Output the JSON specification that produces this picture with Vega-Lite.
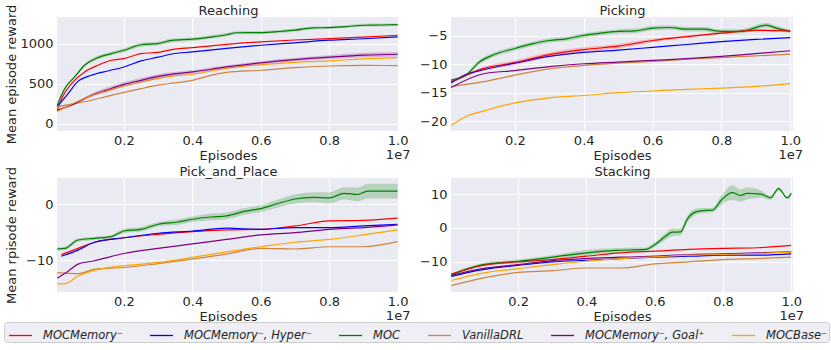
{
  "$schema": "https://vega.github.io/schema/vega-lite/v6.json",
  "background": "white",
  "padding": {"left": 3, "top": 4, "right": 2, "bottom": 2},
  "config": {
    "font": "DejaVu Sans",
    "view": {"fill": "#EAEAF2", "stroke": null},
    "axis": {"grid": true, "gridColor": "#ffffff", "gridWidth": 1, "domain": false, "ticks": false, "labelFont": "DejaVu Sans", "titleFont": "DejaVu Sans", "labelFontSize": 13, "titleFontSize": 13, "titleFontWeight": "normal", "labelColor": "#262626", "titleColor": "#262626", "labelLineHeight": 14},
    "axisX": {"labelPadding": 3},
    "axisY": {"labelPadding": 4},
    "legend": {"direction": "horizontal", "columns": 6, "symbolType": "stroke", "symbolSize": 529, "symbolStrokeWidth": 1.3, "symbolOffset": 3, "labelFont": "DejaVu Sans", "labelFontStyle": "italic", "labelFontSize": 11.5, "labelColor": "#262626", "labelOffset": 10, "columnPadding": 23, "padding": 1, "fillColor": "#EEEEF4", "strokeColor": "#CCCCCC", "cornerRadius": 3, "labelLimit": 300}
  },
  "data": {"values": [
    {"p":"R","s":"c","x":0.005,"y":229,"lo":217,"hi":241},
    {"p":"R","s":"c","x":0.027,"y":437,"lo":422,"hi":452},
    {"p":"R","s":"c","x":0.056,"y":583,"lo":565,"hi":601},
    {"p":"R","s":"c","x":0.085,"y":729,"lo":709,"hi":749},
    {"p":"R","s":"c","x":0.124,"y":825,"lo":803,"hi":847},
    {"p":"R","s":"c","x":0.163,"y":875,"lo":853,"hi":897},
    {"p":"R","s":"c","x":0.2,"y":917,"lo":892,"hi":942},
    {"p":"R","s":"c","x":0.25,"y":985,"lo":960,"hi":1010},
    {"p":"R","s":"c","x":0.3,"y":1000,"lo":975,"hi":1025},
    {"p":"R","s":"c","x":0.34,"y":1040,"lo":1015,"hi":1065},
    {"p":"R","s":"c","x":0.4,"y":1055,"lo":1033,"hi":1077},
    {"p":"R","s":"c","x":0.45,"y":1080,"lo":1058,"hi":1102},
    {"p":"R","s":"c","x":0.5,"y":1110,"lo":1088,"hi":1132},
    {"p":"R","s":"c","x":0.53,"y":1135,"lo":1115,"hi":1155},
    {"p":"R","s":"c","x":0.6,"y":1138,"lo":1118,"hi":1158},
    {"p":"R","s":"c","x":0.65,"y":1150,"lo":1130,"hi":1170},
    {"p":"R","s":"c","x":0.7,"y":1167,"lo":1147,"hi":1187},
    {"p":"R","s":"c","x":0.75,"y":1195,"lo":1177,"hi":1213},
    {"p":"R","s":"c","x":0.8,"y":1200,"lo":1182,"hi":1218},
    {"p":"R","s":"c","x":0.85,"y":1212,"lo":1194,"hi":1230},
    {"p":"R","s":"c","x":0.9,"y":1229,"lo":1211,"hi":1247},
    {"p":"R","s":"c","x":0.95,"y":1232,"lo":1214,"hi":1250},
    {"p":"R","s":"c","x":1.0,"y":1237,"lo":1219,"hi":1255},
    {"p":"R","s":"m","x":0.005,"y":166},
    {"p":"R","s":"m","x":0.02,"y":330},
    {"p":"R","s":"m","x":0.047,"y":500},
    {"p":"R","s":"m","x":0.085,"y":646},
    {"p":"R","s":"m","x":0.124,"y":729},
    {"p":"R","s":"m","x":0.163,"y":792},
    {"p":"R","s":"m","x":0.2,"y":812},
    {"p":"R","s":"m","x":0.25,"y":875},
    {"p":"R","s":"m","x":0.3,"y":890},
    {"p":"R","s":"m","x":0.34,"y":925},
    {"p":"R","s":"m","x":0.4,"y":950},
    {"p":"R","s":"m","x":0.5,"y":990},
    {"p":"R","s":"m","x":0.6,"y":1021},
    {"p":"R","s":"m","x":0.7,"y":1045},
    {"p":"R","s":"m","x":0.8,"y":1062},
    {"p":"R","s":"m","x":0.9,"y":1080},
    {"p":"R","s":"m","x":1.0,"y":1104},
    {"p":"R","s":"h","x":0.005,"y":212},
    {"p":"R","s":"h","x":0.037,"y":375},
    {"p":"R","s":"h","x":0.064,"y":521},
    {"p":"R","s":"h","x":0.105,"y":604},
    {"p":"R","s":"h","x":0.153,"y":658},
    {"p":"R","s":"h","x":0.2,"y":708},
    {"p":"R","s":"h","x":0.25,"y":783},
    {"p":"R","s":"h","x":0.3,"y":830},
    {"p":"R","s":"h","x":0.34,"y":870},
    {"p":"R","s":"h","x":0.4,"y":896},
    {"p":"R","s":"h","x":0.5,"y":940},
    {"p":"R","s":"h","x":0.6,"y":979},
    {"p":"R","s":"h","x":0.7,"y":1010},
    {"p":"R","s":"h","x":0.8,"y":1042},
    {"p":"R","s":"h","x":0.9,"y":1060},
    {"p":"R","s":"h","x":1.0,"y":1083},
    {"p":"R","s":"v","x":0.005,"y":212},
    {"p":"R","s":"v","x":0.056,"y":250},
    {"p":"R","s":"v","x":0.105,"y":292},
    {"p":"R","s":"v","x":0.15,"y":340},
    {"p":"R","s":"v","x":0.2,"y":390},
    {"p":"R","s":"v","x":0.25,"y":437},
    {"p":"R","s":"v","x":0.3,"y":480},
    {"p":"R","s":"v","x":0.34,"y":505},
    {"p":"R","s":"v","x":0.4,"y":540},
    {"p":"R","s":"v","x":0.45,"y":600},
    {"p":"R","s":"v","x":0.5,"y":640},
    {"p":"R","s":"v","x":0.6,"y":667},
    {"p":"R","s":"v","x":0.7,"y":700},
    {"p":"R","s":"v","x":0.8,"y":720},
    {"p":"R","s":"v","x":0.9,"y":727},
    {"p":"R","s":"v","x":1.0,"y":725},
    {"p":"R","s":"g","x":0.005,"y":166,"lo":161,"hi":171},
    {"p":"R","s":"g","x":0.056,"y":250,"lo":238,"hi":262},
    {"p":"R","s":"g","x":0.105,"y":354,"lo":334,"hi":374},
    {"p":"R","s":"g","x":0.15,"y":420,"lo":390,"hi":450},
    {"p":"R","s":"g","x":0.2,"y":490,"lo":460,"hi":520},
    {"p":"R","s":"g","x":0.25,"y":541,"lo":511,"hi":571},
    {"p":"R","s":"g","x":0.3,"y":590,"lo":562,"hi":618},
    {"p":"R","s":"g","x":0.338,"y":616,"lo":591,"hi":641},
    {"p":"R","s":"g","x":0.4,"y":646,"lo":624,"hi":668},
    {"p":"R","s":"g","x":0.5,"y":708,"lo":688,"hi":728},
    {"p":"R","s":"g","x":0.6,"y":760,"lo":740,"hi":780},
    {"p":"R","s":"g","x":0.7,"y":800,"lo":778,"hi":822},
    {"p":"R","s":"g","x":0.8,"y":830,"lo":805,"hi":855},
    {"p":"R","s":"g","x":0.9,"y":855,"lo":825,"hi":885},
    {"p":"R","s":"g","x":1.0,"y":867,"lo":839,"hi":895},
    {"p":"R","s":"b","x":0.005,"y":150},
    {"p":"R","s":"b","x":0.056,"y":260},
    {"p":"R","s":"b","x":0.105,"y":350},
    {"p":"R","s":"b","x":0.15,"y":410},
    {"p":"R","s":"b","x":0.2,"y":470},
    {"p":"R","s":"b","x":0.25,"y":520},
    {"p":"R","s":"b","x":0.3,"y":565},
    {"p":"R","s":"b","x":0.338,"y":590},
    {"p":"R","s":"b","x":0.4,"y":617},
    {"p":"R","s":"b","x":0.5,"y":690},
    {"p":"R","s":"b","x":0.6,"y":735},
    {"p":"R","s":"b","x":0.7,"y":765},
    {"p":"R","s":"b","x":0.8,"y":785},
    {"p":"R","s":"b","x":0.9,"y":808},
    {"p":"R","s":"b","x":1.0,"y":825},

    {"p":"P","s":"c","x":0.015,"y":-12.8,"lo":-13.1,"hi":-12.5},
    {"p":"P","s":"c","x":0.058,"y":-11.9,"lo":-12.2,"hi":-11.6},
    {"p":"P","s":"c","x":0.097,"y":-9.6,"lo":-10.0,"hi":-9.2},
    {"p":"P","s":"c","x":0.135,"y":-8.4,"lo":-8.8,"hi":-8.0},
    {"p":"P","s":"c","x":0.2,"y":-7.2,"lo":-7.6,"hi":-6.8},
    {"p":"P","s":"c","x":0.25,"y":-6.4,"lo":-6.8,"hi":-6.0},
    {"p":"P","s":"c","x":0.3,"y":-5.8,"lo":-6.2,"hi":-5.4},
    {"p":"P","s":"c","x":0.35,"y":-5.5,"lo":-5.9,"hi":-5.1},
    {"p":"P","s":"c","x":0.4,"y":-4.9,"lo":-5.3,"hi":-4.5},
    {"p":"P","s":"c","x":0.45,"y":-4.5,"lo":-4.9,"hi":-4.1},
    {"p":"P","s":"c","x":0.5,"y":-4.2,"lo":-4.6,"hi":-3.8},
    {"p":"P","s":"c","x":0.55,"y":-4.1,"lo":-4.5,"hi":-3.7},
    {"p":"P","s":"c","x":0.6,"y":-3.6,"lo":-4.0,"hi":-3.2},
    {"p":"P","s":"c","x":0.65,"y":-3.5,"lo":-3.9,"hi":-3.1},
    {"p":"P","s":"c","x":0.7,"y":-3.8,"lo":-4.2,"hi":-3.4},
    {"p":"P","s":"c","x":0.75,"y":-3.8,"lo":-4.2,"hi":-3.4},
    {"p":"P","s":"c","x":0.8,"y":-4.2,"lo":-4.6,"hi":-3.8},
    {"p":"P","s":"c","x":0.85,"y":-4.2,"lo":-4.6,"hi":-3.8},
    {"p":"P","s":"c","x":0.88,"y":-3.9,"lo":-4.3,"hi":-3.5},
    {"p":"P","s":"c","x":0.93,"y":-3.1,"lo":-3.5,"hi":-2.7},
    {"p":"P","s":"c","x":0.96,"y":-3.6,"lo":-4.0,"hi":-3.2},
    {"p":"P","s":"c","x":1.0,"y":-4.2,"lo":-4.5,"hi":-3.9},
    {"p":"P","s":"m","x":0.015,"y":-13.1,"lo":-13.3,"hi":-12.9},
    {"p":"P","s":"m","x":0.106,"y":-10.8,"lo":-11.1,"hi":-10.5},
    {"p":"P","s":"m","x":0.2,"y":-9.7,"lo":-10.1,"hi":-9.3},
    {"p":"P","s":"m","x":0.3,"y":-8.3,"lo":-8.7,"hi":-7.9},
    {"p":"P","s":"m","x":0.4,"y":-7.4,"lo":-7.8,"hi":-7.0},
    {"p":"P","s":"m","x":0.5,"y":-6.8,"lo":-7.2,"hi":-6.4},
    {"p":"P","s":"m","x":0.6,"y":-5.8,"lo":-6.1,"hi":-5.5},
    {"p":"P","s":"m","x":0.7,"y":-5.1,"lo":-5.3,"hi":-4.9},
    {"p":"P","s":"m","x":0.8,"y":-4.5,"lo":-4.7,"hi":-4.3},
    {"p":"P","s":"m","x":0.9,"y":-4.0,"lo":-4.2,"hi":-3.8},
    {"p":"P","s":"m","x":1.0,"y":-4.1,"lo":-4.3,"hi":-3.9},
    {"p":"P","s":"h","x":0.015,"y":-13.3},
    {"p":"P","s":"h","x":0.058,"y":-11.8},
    {"p":"P","s":"h","x":0.106,"y":-11.0},
    {"p":"P","s":"h","x":0.2,"y":-9.8},
    {"p":"P","s":"h","x":0.3,"y":-8.6},
    {"p":"P","s":"h","x":0.4,"y":-7.9},
    {"p":"P","s":"h","x":0.5,"y":-7.5},
    {"p":"P","s":"h","x":0.6,"y":-7.0},
    {"p":"P","s":"h","x":0.7,"y":-6.5},
    {"p":"P","s":"h","x":0.8,"y":-6.0},
    {"p":"P","s":"h","x":0.9,"y":-5.6},
    {"p":"P","s":"h","x":1.0,"y":-5.3},
    {"p":"P","s":"v","x":0.015,"y":-13.9},
    {"p":"P","s":"v","x":0.106,"y":-13.1},
    {"p":"P","s":"v","x":0.2,"y":-11.9},
    {"p":"P","s":"v","x":0.3,"y":-10.8},
    {"p":"P","s":"v","x":0.4,"y":-10.2},
    {"p":"P","s":"v","x":0.5,"y":-9.8},
    {"p":"P","s":"v","x":0.6,"y":-9.5},
    {"p":"P","s":"v","x":0.7,"y":-9.1},
    {"p":"P","s":"v","x":0.8,"y":-8.8},
    {"p":"P","s":"v","x":0.9,"y":-8.5},
    {"p":"P","s":"v","x":1.0,"y":-8.2},
    {"p":"P","s":"g","x":0.015,"y":-14.1},
    {"p":"P","s":"g","x":0.106,"y":-11.7},
    {"p":"P","s":"g","x":0.2,"y":-11.1},
    {"p":"P","s":"g","x":0.3,"y":-10.4},
    {"p":"P","s":"g","x":0.4,"y":-9.9},
    {"p":"P","s":"g","x":0.5,"y":-9.6},
    {"p":"P","s":"g","x":0.6,"y":-9.3},
    {"p":"P","s":"g","x":0.7,"y":-9.0},
    {"p":"P","s":"g","x":0.8,"y":-8.6},
    {"p":"P","s":"g","x":0.9,"y":-8.1},
    {"p":"P","s":"g","x":1.0,"y":-7.6},
    {"p":"P","s":"b","x":0.015,"y":-20.8},
    {"p":"P","s":"b","x":0.058,"y":-19.2},
    {"p":"P","s":"b","x":0.106,"y":-18.3},
    {"p":"P","s":"b","x":0.2,"y":-16.8},
    {"p":"P","s":"b","x":0.3,"y":-15.9},
    {"p":"P","s":"b","x":0.4,"y":-15.5},
    {"p":"P","s":"b","x":0.5,"y":-15.0},
    {"p":"P","s":"b","x":0.6,"y":-14.7},
    {"p":"P","s":"b","x":0.7,"y":-14.4},
    {"p":"P","s":"b","x":0.8,"y":-14.2},
    {"p":"P","s":"b","x":0.9,"y":-13.9},
    {"p":"P","s":"b","x":1.0,"y":-13.4},

    {"p":"Q","s":"c","x":0.005,"y":-8.0,"lo":-8.3,"hi":-7.7},
    {"p":"Q","s":"c","x":0.027,"y":-7.9,"lo":-8.2,"hi":-7.6},
    {"p":"Q","s":"c","x":0.066,"y":-6.4,"lo":-6.7,"hi":-6.1},
    {"p":"Q","s":"c","x":0.114,"y":-6.1,"lo":-6.4,"hi":-5.8},
    {"p":"Q","s":"c","x":0.163,"y":-5.8,"lo":-6.1,"hi":-5.5},
    {"p":"Q","s":"c","x":0.2,"y":-4.8,"lo":-5.2,"hi":-4.4},
    {"p":"Q","s":"c","x":0.25,"y":-4.5,"lo":-4.9,"hi":-4.1},
    {"p":"Q","s":"c","x":0.3,"y":-3.6,"lo":-4.0,"hi":-3.2},
    {"p":"Q","s":"c","x":0.358,"y":-3.2,"lo":-3.7,"hi":-2.7},
    {"p":"Q","s":"c","x":0.4,"y":-2.7,"lo":-3.2,"hi":-2.2},
    {"p":"Q","s":"c","x":0.455,"y":-2.3,"lo":-2.9,"hi":-1.7},
    {"p":"Q","s":"c","x":0.5,"y":-2.1,"lo":-2.7,"hi":-1.5},
    {"p":"Q","s":"c","x":0.552,"y":-1.3,"lo":-1.9,"hi":-0.7},
    {"p":"Q","s":"c","x":0.6,"y":-0.8,"lo":-1.4,"hi":-0.2},
    {"p":"Q","s":"c","x":0.65,"y":0.1,"lo":-0.6,"hi":0.8},
    {"p":"Q","s":"c","x":0.7,"y":0.9,"lo":0.1,"hi":1.7},
    {"p":"Q","s":"c","x":0.752,"y":1.2,"lo":0.3,"hi":2.1},
    {"p":"Q","s":"c","x":0.8,"y":1.1,"lo":0.1,"hi":2.1},
    {"p":"Q","s":"c","x":0.844,"y":1.9,"lo":0.8,"hi":3.0},
    {"p":"Q","s":"c","x":0.883,"y":1.7,"lo":0.5,"hi":2.9},
    {"p":"Q","s":"c","x":0.912,"y":2.3,"lo":1.0,"hi":3.6},
    {"p":"Q","s":"c","x":1.0,"y":2.3,"lo":1.0,"hi":3.6},
    {"p":"Q","s":"m","x":0.017,"y":-9.0},
    {"p":"Q","s":"m","x":0.066,"y":-7.9},
    {"p":"Q","s":"m","x":0.114,"y":-6.8},
    {"p":"Q","s":"m","x":0.2,"y":-6.0},
    {"p":"Q","s":"m","x":0.3,"y":-5.4},
    {"p":"Q","s":"m","x":0.4,"y":-4.9},
    {"p":"Q","s":"m","x":0.5,"y":-4.6},
    {"p":"Q","s":"m","x":0.6,"y":-4.5},
    {"p":"Q","s":"m","x":0.7,"y":-3.9},
    {"p":"Q","s":"m","x":0.8,"y":-3.0},
    {"p":"Q","s":"m","x":0.9,"y":-2.9},
    {"p":"Q","s":"m","x":1.0,"y":-2.5},
    {"p":"Q","s":"h","x":0.017,"y":-9.3},
    {"p":"Q","s":"h","x":0.066,"y":-8.2},
    {"p":"Q","s":"h","x":0.114,"y":-6.8},
    {"p":"Q","s":"h","x":0.2,"y":-6.0},
    {"p":"Q","s":"h","x":0.3,"y":-5.2},
    {"p":"Q","s":"h","x":0.4,"y":-4.8},
    {"p":"Q","s":"h","x":0.5,"y":-4.3},
    {"p":"Q","s":"h","x":0.6,"y":-4.5},
    {"p":"Q","s":"h","x":0.7,"y":-4.2},
    {"p":"Q","s":"h","x":0.8,"y":-4.2},
    {"p":"Q","s":"h","x":0.9,"y":-3.9},
    {"p":"Q","s":"h","x":1.0,"y":-3.6},
    {"p":"Q","s":"v","x":0.005,"y":-12.2},
    {"p":"Q","s":"v","x":0.066,"y":-12.4},
    {"p":"Q","s":"v","x":0.114,"y":-11.6},
    {"p":"Q","s":"v","x":0.2,"y":-11.3},
    {"p":"Q","s":"v","x":0.3,"y":-10.6},
    {"p":"Q","s":"v","x":0.4,"y":-9.8},
    {"p":"Q","s":"v","x":0.5,"y":-8.9},
    {"p":"Q","s":"v","x":0.6,"y":-7.9},
    {"p":"Q","s":"v","x":0.7,"y":-8.0},
    {"p":"Q","s":"v","x":0.8,"y":-7.6},
    {"p":"Q","s":"v","x":0.9,"y":-7.6},
    {"p":"Q","s":"v","x":1.0,"y":-6.7},
    {"p":"Q","s":"g","x":0.005,"y":-13.2},
    {"p":"Q","s":"g","x":0.038,"y":-11.9},
    {"p":"Q","s":"g","x":0.066,"y":-10.7},
    {"p":"Q","s":"g","x":0.114,"y":-10.1},
    {"p":"Q","s":"g","x":0.2,"y":-8.8},
    {"p":"Q","s":"g","x":0.3,"y":-7.9},
    {"p":"Q","s":"g","x":0.4,"y":-7.1},
    {"p":"Q","s":"g","x":0.5,"y":-6.3},
    {"p":"Q","s":"g","x":0.6,"y":-5.5},
    {"p":"Q","s":"g","x":0.7,"y":-5.1},
    {"p":"Q","s":"g","x":0.8,"y":-4.5},
    {"p":"Q","s":"g","x":0.9,"y":-4.2},
    {"p":"Q","s":"g","x":1.0,"y":-3.7},
    {"p":"Q","s":"b","x":0.005,"y":-14.2},
    {"p":"Q","s":"b","x":0.027,"y":-14.2},
    {"p":"Q","s":"b","x":0.066,"y":-12.8},
    {"p":"Q","s":"b","x":0.114,"y":-11.8},
    {"p":"Q","s":"b","x":0.2,"y":-11.0},
    {"p":"Q","s":"b","x":0.3,"y":-10.4},
    {"p":"Q","s":"b","x":0.4,"y":-9.5},
    {"p":"Q","s":"b","x":0.5,"y":-8.5},
    {"p":"Q","s":"b","x":0.6,"y":-7.6},
    {"p":"Q","s":"b","x":0.7,"y":-6.8},
    {"p":"Q","s":"b","x":0.8,"y":-6.3},
    {"p":"Q","s":"b","x":0.9,"y":-5.5},
    {"p":"Q","s":"b","x":1.0,"y":-4.6},

    {"p":"S","s":"c","x":0.004,"y":-13.9,"lo":-14.3,"hi":-13.5},
    {"p":"S","s":"c","x":0.096,"y":-10.9,"lo":-11.4,"hi":-10.4},
    {"p":"S","s":"c","x":0.2,"y":-9.9,"lo":-10.4,"hi":-9.4},
    {"p":"S","s":"c","x":0.3,"y":-8.7,"lo":-9.3,"hi":-8.1},
    {"p":"S","s":"c","x":0.4,"y":-7.4,"lo":-8.2,"hi":-6.6},
    {"p":"S","s":"c","x":0.486,"y":-6.7,"lo":-7.4,"hi":-6.0},
    {"p":"S","s":"c","x":0.573,"y":-6.4,"lo":-7.0,"hi":-5.8},
    {"p":"S","s":"c","x":0.6,"y":-5.0,"lo":-5.7,"hi":-4.3},
    {"p":"S","s":"c","x":0.632,"y":-2.5,"lo":-3.5,"hi":-1.5},
    {"p":"S","s":"c","x":0.651,"y":-1.3,"lo":-2.5,"hi":-0.1},
    {"p":"S","s":"c","x":0.676,"y":-1.2,"lo":-2.2,"hi":-0.2},
    {"p":"S","s":"c","x":0.695,"y":2.5,"lo":1.5,"hi":3.5},
    {"p":"S","s":"c","x":0.715,"y":4.5,"lo":3.5,"hi":5.5},
    {"p":"S","s":"c","x":0.739,"y":5.1,"lo":4.3,"hi":5.9},
    {"p":"S","s":"c","x":0.768,"y":5.2,"lo":4.5,"hi":5.9},
    {"p":"S","s":"c","x":0.797,"y":8.4,"lo":7.0,"hi":9.8},
    {"p":"S","s":"c","x":0.827,"y":10.4,"lo":8.2,"hi":12.6},
    {"p":"S","s":"c","x":0.851,"y":9.6,"lo":7.8,"hi":11.4},
    {"p":"S","s":"c","x":0.871,"y":10.2,"lo":8.4,"hi":12.0},
    {"p":"S","s":"c","x":0.914,"y":9.9,"lo":8.9,"hi":10.9},
    {"p":"S","s":"c","x":0.939,"y":8.9,"lo":8.2,"hi":9.6},
    {"p":"S","s":"c","x":0.963,"y":11.6,"lo":11.1,"hi":12.1},
    {"p":"S","s":"c","x":0.988,"y":8.9,"lo":8.5,"hi":9.3},
    {"p":"S","s":"c","x":1.0,"y":10.2,"lo":9.8,"hi":10.6},
    {"p":"S","s":"m","x":0.004,"y":-13.7},
    {"p":"S","s":"m","x":0.096,"y":-11.1},
    {"p":"S","s":"m","x":0.2,"y":-10.1},
    {"p":"S","s":"m","x":0.3,"y":-9.4},
    {"p":"S","s":"m","x":0.4,"y":-8.4},
    {"p":"S","s":"m","x":0.5,"y":-7.4},
    {"p":"S","s":"m","x":0.6,"y":-6.9},
    {"p":"S","s":"m","x":0.7,"y":-6.4},
    {"p":"S","s":"m","x":0.8,"y":-6.1},
    {"p":"S","s":"m","x":0.9,"y":-5.9},
    {"p":"S","s":"m","x":1.0,"y":-5.2},
    {"p":"S","s":"h","x":0.004,"y":-14.4},
    {"p":"S","s":"h","x":0.096,"y":-12.4},
    {"p":"S","s":"h","x":0.2,"y":-11.1},
    {"p":"S","s":"h","x":0.3,"y":-10.1},
    {"p":"S","s":"h","x":0.4,"y":-9.6},
    {"p":"S","s":"h","x":0.5,"y":-9.1},
    {"p":"S","s":"h","x":0.6,"y":-8.7},
    {"p":"S","s":"h","x":0.7,"y":-8.4},
    {"p":"S","s":"h","x":0.8,"y":-8.1},
    {"p":"S","s":"h","x":0.9,"y":-8.1},
    {"p":"S","s":"h","x":1.0,"y":-7.7},
    {"p":"S","s":"v","x":0.004,"y":-17.1},
    {"p":"S","s":"v","x":0.096,"y":-14.9},
    {"p":"S","s":"v","x":0.2,"y":-13.2},
    {"p":"S","s":"v","x":0.3,"y":-12.7},
    {"p":"S","s":"v","x":0.4,"y":-11.9},
    {"p":"S","s":"v","x":0.5,"y":-11.9},
    {"p":"S","s":"v","x":0.6,"y":-10.7},
    {"p":"S","s":"v","x":0.7,"y":-10.1},
    {"p":"S","s":"v","x":0.8,"y":-9.4},
    {"p":"S","s":"v","x":0.9,"y":-9.1},
    {"p":"S","s":"v","x":1.0,"y":-8.7},
    {"p":"S","s":"g","x":0.004,"y":-14.1},
    {"p":"S","s":"g","x":0.096,"y":-12.1},
    {"p":"S","s":"g","x":0.2,"y":-10.9},
    {"p":"S","s":"g","x":0.3,"y":-9.7},
    {"p":"S","s":"g","x":0.4,"y":-9.1},
    {"p":"S","s":"g","x":0.5,"y":-8.7},
    {"p":"S","s":"g","x":0.6,"y":-8.4},
    {"p":"S","s":"g","x":0.7,"y":-7.9},
    {"p":"S","s":"g","x":0.8,"y":-7.7},
    {"p":"S","s":"g","x":0.9,"y":-7.4},
    {"p":"S","s":"g","x":1.0,"y":-7.1},
    {"p":"S","s":"b","x":0.004,"y":-15.6},
    {"p":"S","s":"b","x":0.096,"y":-13.4},
    {"p":"S","s":"b","x":0.2,"y":-12.1},
    {"p":"S","s":"b","x":0.3,"y":-10.9},
    {"p":"S","s":"b","x":0.4,"y":-9.9},
    {"p":"S","s":"b","x":0.5,"y":-9.1},
    {"p":"S","s":"b","x":0.6,"y":-8.6},
    {"p":"S","s":"b","x":0.7,"y":-8.1},
    {"p":"S","s":"b","x":0.8,"y":-7.9},
    {"p":"S","s":"b","x":0.9,"y":-7.6},
    {"p":"S","s":"b","x":1.0,"y":-7.2}
  ]},
  "columns": 2,
  "bounds": "flush",
  "spacing": {"row": 47, "column": 52},
  "concat": [
    {
      "width": 342, "height": 114,
      "transform": [{"filter": "datum.p == 'R'"}],
      "resolve": {"axis": {"x": "independent"}},
      "layer": [
        {"mark": {"type": "line", "strokeWidth": 1.2, "interpolate": "monotone"},
         "encoding": {
           "x": {"field": "x", "type": "quantitative", "scale": {"domain": [0.0044, 1.004], "nice": false, "zero": false}, "axis": {"orient": "bottom", "values": [0.2, 0.4, 0.6, 0.8, 1], "labelExpr": "datum.value == 1 ? ['1.0', '1e7\u00a0\u00a0\u00a0\u00a0\u00a0'] : format(datum.value, '.1f')", "labelFlush": false, "labelOverlap": false, "title": "Episodes", "titleX": 171, "titleY": 28, "titleBaseline": "alphabetic"}},
           "y": {"field": "y", "type": "quantitative", "scale": {"domain": [-92, 1332], "nice": false, "zero": false}, "axis": {"values": [0, 500, 1000], "format": "d", "title": "Mean episode reward", "titleX": -46, "titleY": 57, "titleBaseline": "middle", "titleAlign": "center"}},
           "color": {"field": "s", "type": "nominal", "scale": {"domain": ["m", "h", "c", "v", "g", "b"], "range": ["#ff0000", "#0000ff", "#008000", "#cd853f", "#800080", "#ffa500"]}, "legend": {"title": null, "orient": "none", "legendX": -53, "legendY": 305, "labelExpr": "datum.value == 'm' ? 'MOCMemory⁻' : datum.value == 'h' ? 'MOCMemory⁻, Hyper⁻' : datum.value == 'c' ? 'MOC' : datum.value == 'v' ? 'VanillaDRL' : datum.value == 'g' ? 'MOCMemory⁻, Goal⁺' : 'MOCBase⁻'"}}
         }},
        {"transform": [{"filter": "isValid(datum.lo)"}],
         "mark": {"type": "area", "opacity": 0.22, "interpolate": "monotone"},
         "encoding": {
           "x": {"field": "x", "type": "quantitative", "scale": {"domain": [0.0044, 1.004], "nice": false, "zero": false}, "axis": {"orient": "top", "title": "Reaching", "labels": false, "grid": false, "titlePadding": 0, "titleX": 171, "titleY": 0, "titleBaseline": "bottom"}},
           "y": {"field": "lo", "type": "quantitative", "scale": {"domain": [-92, 1332], "nice": false, "zero": false}, "axis": {"values": [0, 500, 1000], "format": "d", "title": "Mean episode reward", "titleX": -46, "titleY": 57, "titleBaseline": "middle", "titleAlign": "center"}},
           "y2": {"field": "hi"},
           "color": {"field": "s", "type": "nominal", "scale": {"domain": ["m", "h", "c", "v", "g", "b"], "range": ["#ff0000", "#0000ff", "#008000", "#cd853f", "#800080", "#ffa500"]}, "legend": null}
         }}
      ]
    },
    {
      "width": 342, "height": 114,
      "transform": [{"filter": "datum.p == 'P'"}],
      "resolve": {"axis": {"x": "independent"}},
      "layer": [
        {"mark": {"type": "line", "strokeWidth": 1.2, "interpolate": "monotone"},
         "encoding": {
           "x": {"field": "x", "type": "quantitative", "scale": {"domain": [0.0145, 1.008], "nice": false, "zero": false}, "axis": {"orient": "bottom", "values": [0.2, 0.4, 0.6, 0.8, 1], "labelExpr": "datum.value == 1 ? ['1.0', '1e7\u00a0\u00a0\u00a0\u00a0\u00a0'] : format(datum.value, '.1f')", "labelFlush": false, "labelOverlap": false, "title": "Episodes", "titleX": 171, "titleY": 28, "titleBaseline": "alphabetic"}},
           "y": {"field": "y", "type": "quantitative", "scale": {"domain": [-21.76, -1.65], "nice": false, "zero": false}, "axis": {"values": [-20, -15, -10, -5], "title": null}},
           "color": {"field": "s", "type": "nominal", "scale": {"domain": ["m", "h", "c", "v", "g", "b"], "range": ["#ff0000", "#0000ff", "#008000", "#cd853f", "#800080", "#ffa500"]}, "legend": {"title": null, "orient": "none", "legendX": -53, "legendY": 305, "labelExpr": "datum.value == 'm' ? 'MOCMemory⁻' : datum.value == 'h' ? 'MOCMemory⁻, Hyper⁻' : datum.value == 'c' ? 'MOC' : datum.value == 'v' ? 'VanillaDRL' : datum.value == 'g' ? 'MOCMemory⁻, Goal⁺' : 'MOCBase⁻'"}}
         }},
        {"transform": [{"filter": "isValid(datum.lo)"}],
         "mark": {"type": "area", "opacity": 0.22, "interpolate": "monotone"},
         "encoding": {
           "x": {"field": "x", "type": "quantitative", "scale": {"domain": [0.0145, 1.008], "nice": false, "zero": false}, "axis": {"orient": "top", "title": "Picking", "labels": false, "grid": false, "titlePadding": 0, "titleX": 171, "titleY": 0, "titleBaseline": "bottom"}},
           "y": {"field": "lo", "type": "quantitative", "scale": {"domain": [-21.76, -1.65], "nice": false, "zero": false}, "axis": {"values": [-20, -15, -10, -5], "title": null}},
           "y2": {"field": "hi"},
           "color": {"field": "s", "type": "nominal", "scale": {"domain": ["m", "h", "c", "v", "g", "b"], "range": ["#ff0000", "#0000ff", "#008000", "#cd853f", "#800080", "#ffa500"]}, "legend": null}
         }}
      ]
    },
    {
      "width": 342, "height": 114,
      "transform": [{"filter": "datum.p == 'Q'"}],
      "resolve": {"axis": {"x": "independent"}},
      "layer": [
        {"mark": {"type": "line", "strokeWidth": 1.2, "interpolate": "monotone"},
         "encoding": {
           "x": {"field": "x", "type": "quantitative", "scale": {"domain": [0.0044, 1.004], "nice": false, "zero": false}, "axis": {"orient": "bottom", "values": [0.2, 0.4, 0.6, 0.8, 1], "labelExpr": "datum.value == 1 ? ['1.0', '1e7\u00a0\u00a0\u00a0\u00a0\u00a0'] : format(datum.value, '.1f')", "labelFlush": false, "labelOverlap": false, "title": "Episodes", "titleX": 171, "titleY": 28, "titleBaseline": "alphabetic"}},
           "y": {"field": "y", "type": "quantitative", "scale": {"domain": [-15.66, 4.64], "nice": false, "zero": false}, "axis": {"values": [-10, 0], "title": "Mean rpisode reward", "titleX": -46, "titleY": 57, "titleBaseline": "middle", "titleAlign": "center"}},
           "color": {"field": "s", "type": "nominal", "scale": {"domain": ["m", "h", "c", "v", "g", "b"], "range": ["#ff0000", "#0000ff", "#008000", "#cd853f", "#800080", "#ffa500"]}, "legend": {"title": null, "orient": "none", "legendX": -53, "legendY": 305, "labelExpr": "datum.value == 'm' ? 'MOCMemory⁻' : datum.value == 'h' ? 'MOCMemory⁻, Hyper⁻' : datum.value == 'c' ? 'MOC' : datum.value == 'v' ? 'VanillaDRL' : datum.value == 'g' ? 'MOCMemory⁻, Goal⁺' : 'MOCBase⁻'"}}
         }},
        {"transform": [{"filter": "isValid(datum.lo)"}],
         "mark": {"type": "area", "opacity": 0.22, "interpolate": "monotone"},
         "encoding": {
           "x": {"field": "x", "type": "quantitative", "scale": {"domain": [0.0044, 1.004], "nice": false, "zero": false}, "axis": {"orient": "top", "title": "Pick_and_Place", "labels": false, "grid": false, "titlePadding": 0, "titleX": 171, "titleY": 0, "titleBaseline": "bottom"}},
           "y": {"field": "lo", "type": "quantitative", "scale": {"domain": [-15.66, 4.64], "nice": false, "zero": false}, "axis": {"values": [-10, 0], "title": "Mean rpisode reward", "titleX": -46, "titleY": 57, "titleBaseline": "middle", "titleAlign": "center"}},
           "y2": {"field": "hi"},
           "color": {"field": "s", "type": "nominal", "scale": {"domain": ["m", "h", "c", "v", "g", "b"], "range": ["#ff0000", "#0000ff", "#008000", "#cd853f", "#800080", "#ffa500"]}, "legend": null}
         }}
      ]
    },
    {
      "width": 342, "height": 114,
      "transform": [{"filter": "datum.p == 'S'"}],
      "resolve": {"axis": {"x": "independent"}},
      "layer": [
        {"mark": {"type": "line", "strokeWidth": 1.2, "interpolate": "monotone"},
         "encoding": {
           "x": {"field": "x", "type": "quantitative", "scale": {"domain": [0.0033, 1.005], "nice": false, "zero": false}, "axis": {"orient": "bottom", "values": [0.2, 0.4, 0.6, 0.8, 1], "labelExpr": "datum.value == 1 ? ['1.0', '1e7\u00a0\u00a0\u00a0\u00a0\u00a0'] : format(datum.value, '.1f')", "labelFlush": false, "labelOverlap": false, "title": "Episodes", "titleX": 171, "titleY": 28, "titleBaseline": "alphabetic"}},
           "y": {"field": "y", "type": "quantitative", "scale": {"domain": [-19.0, 14.75], "nice": false, "zero": false}, "axis": {"values": [-10, 0, 10], "title": null}},
           "color": {"field": "s", "type": "nominal", "scale": {"domain": ["m", "h", "c", "v", "g", "b"], "range": ["#ff0000", "#0000ff", "#008000", "#cd853f", "#800080", "#ffa500"]}, "legend": {"title": null, "orient": "none", "legendX": -53, "legendY": 305, "labelExpr": "datum.value == 'm' ? 'MOCMemory⁻' : datum.value == 'h' ? 'MOCMemory⁻, Hyper⁻' : datum.value == 'c' ? 'MOC' : datum.value == 'v' ? 'VanillaDRL' : datum.value == 'g' ? 'MOCMemory⁻, Goal⁺' : 'MOCBase⁻'"}}
         }},
        {"transform": [{"filter": "isValid(datum.lo)"}],
         "mark": {"type": "area", "opacity": 0.22, "interpolate": "monotone"},
         "encoding": {
           "x": {"field": "x", "type": "quantitative", "scale": {"domain": [0.0033, 1.005], "nice": false, "zero": false}, "axis": {"orient": "top", "title": "Stacking", "labels": false, "grid": false, "titlePadding": 0, "titleX": 171, "titleY": 0, "titleBaseline": "bottom"}},
           "y": {"field": "lo", "type": "quantitative", "scale": {"domain": [-19.0, 14.75], "nice": false, "zero": false}, "axis": {"values": [-10, 0, 10], "title": null}},
           "y2": {"field": "hi"},
           "color": {"field": "s", "type": "nominal", "scale": {"domain": ["m", "h", "c", "v", "g", "b"], "range": ["#ff0000", "#0000ff", "#008000", "#cd853f", "#800080", "#ffa500"]}, "legend": null}
         }}
      ]
    }
  ]
}
